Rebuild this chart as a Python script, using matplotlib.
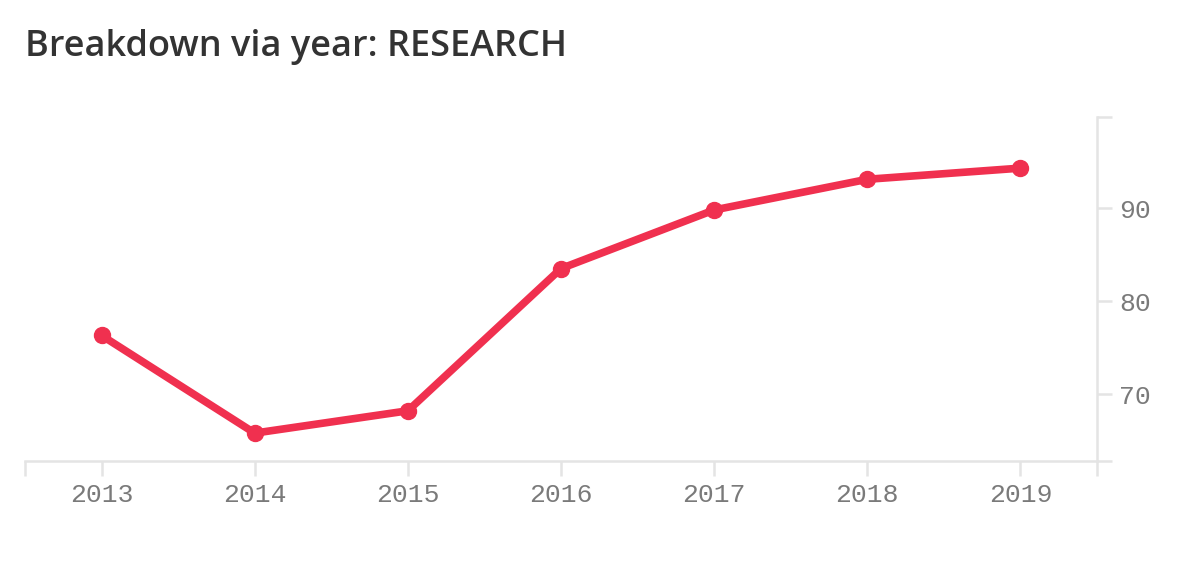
import numpy as np
import matplotlib.pyplot as plt

years = [2013, 2014, 2015, 2016, 2017, 2018, 2019]
scores = [76.3, 65.8, 68.2, 83.5, 89.8, 93.1, 94.3]
yticks = [70, 80, 90]

line_col = '#f0304f'
axis_col = '#e4e4e4'
label_col = '#7a7a7a'

fig = plt.figure(figsize=(12, 5.66), dpi=100)
ax = fig.add_axes([25/1200, 1-461/566, (1097-25)/1200, (461-117)/566])

ax.plot(years, scores, color=line_col, lw=5.5, marker='o', ms=11.5,
        solid_capstyle='round', solid_joinstyle='round')

ax.set_xlim(2012.5, 2019.5)
ax.set_ylim(62.8, 99.8)

ax.set_xticks(years)
ax.set_xticklabels([str(y) for y in years])
ax.set_xticks([2012.5, 2019.5], minor=True)
ax.set_yticks(yticks)
ax.set_yticks([62.8, 99.8], minor=True)

ax.yaxis.tick_right()
for s in ['top', 'left']:
    ax.spines[s].set_visible(False)
for s in ['bottom', 'right']:
    ax.spines[s].set_color(axis_col)
    ax.spines[s].set_linewidth(1.8)

ax.tick_params(axis='both', which='both', colors=axis_col, width=1.8,
               length=11, labelcolor=label_col, labelsize=19, pad=5)
for lab in ax.get_xticklabels() + ax.get_yticklabels():
    lab.set_family('Liberation Mono')

fig.text(25/1200, 1-47/566, 'Breakdown via year: RESEARCH', fontsize=26,
         family='Open Sans', weight='semibold', color='#333333',
         va='center', ha='left')

fig.savefig('out.png', dpi=100)
